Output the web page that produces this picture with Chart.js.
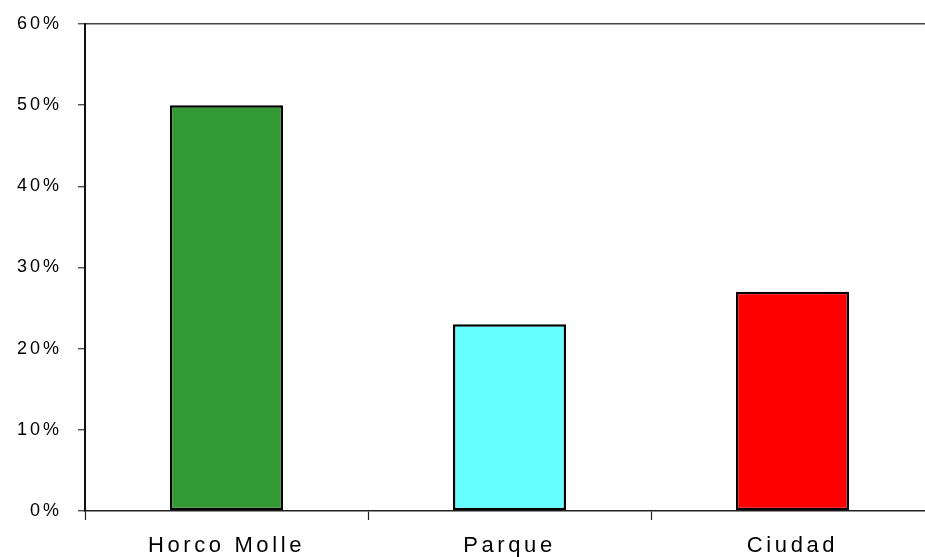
<!DOCTYPE html>
<html>
<head>
<meta charset="utf-8">
<script src="https://cdn.jsdelivr.net/npm/chart.js@4/dist/chart.umd.min.js"></script>
<style>
  html, body { margin: 0; padding: 0; background: #fff; overflow: hidden; }
  #wrap { width: 940px; height: 557px; }
</style>
</head>
<body>
<div id="wrap"><canvas id="c" width="940" height="557"></canvas></div>
<script>
// Share of records by site (%)
const categories = ['Horco Molle', 'Parque', 'Ciudad'];
const shares = [50, 23, 27];
const barColors = ['#339933', '#66ffff', '#ff0000'];
const yTicks = [0, 10, 20, 30, 40, 50, 60];

// Draws a scale's labels with extra letter spacing
function spaced(scale, spacing) {
  if (scale._spacedWrap) return;
  const orig = scale.drawLabels;
  scale.drawLabels = function (area) {
    const ctx = this.ctx;
    ctx.save();
    ctx.letterSpacing = spacing;
    orig.call(this, area);
    ctx.restore();
  };
  scale._spacedWrap = true;
}

const spacingPlugin = {
  id: 'spacing',
  beforeDraw(chart) {
    spaced(chart.scales.x, '3.6px');
    spaced(chart.scales.y, '3px');
  }
};

new Chart(document.getElementById('c'), {
  type: 'bar',
  data: {
    labels: categories,
    datasets: [{
      data: shares,
      backgroundColor: barColors,
      borderColor: '#000',
      borderWidth: 2.5,
      borderSkipped: false,
      barPercentage: 0.4,
      categoryPercentage: 1
    }]
  },
  options: {
    responsive: false,
    animation: false,
    layout: { padding: { top: 24, right: 6, left: 0, bottom: 0 } },
    plugins: { legend: { display: false }, tooltip: { enabled: false }, title: { display: false } },
    scales: {
      x: {
        offset: true,
        grid: { offset: true, drawOnChartArea: false, tickLength: 9, tickColor: '#222', tickWidth: 1.2 },
        border: { display: true, color: '#222', width: 1.5 },
        ticks: {
          color: '#000',
          font: { family: 'Arial, "Liberation Sans", sans-serif', size: 22 },
          padding: 13,
          maxRotation: 0
        },
        afterFit(s) { s.height = 46; }
      },
      y: {
        min: 0,
        max: 60,
        afterBuildTicks(s) { s.ticks = yTicks.map(v => ({ value: v })); },
        grid: {
          drawOnChartArea: true,
          color: c => (c.tick && c.tick.value === 60 ? '#444' : 'rgba(0,0,0,0)'),
          lineWidth: 1.5,
          tickLength: 7,
          tickColor: '#333',
          tickWidth: 1.2
        },
        border: { display: true, color: '#111', width: 2 },
        ticks: {
          color: '#000',
          font: { family: 'Arial, "Liberation Sans", sans-serif', size: 18 },
          padding: 16,
          callback: v => v + '%'
        },
        afterFit(s) {
          s.width = 85;
          s.paddingTop = 0;
          s.paddingBottom = 0;
        }
      }
    }
  },
  plugins: [spacingPlugin]
});
</script>
</body>
</html>
